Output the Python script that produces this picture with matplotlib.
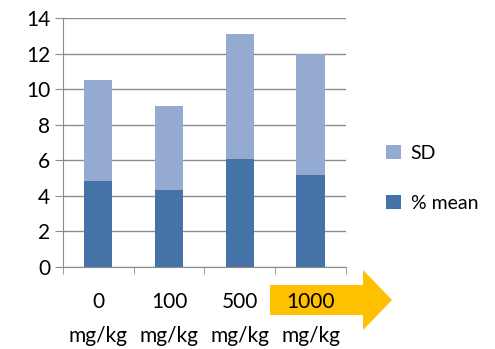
import matplotlib.pyplot as plt
from matplotlib.patches import Polygon
import numpy as np

plt.rcParams['font.family'] = ['Lato', 'DejaVu Sans']

doses = ['0\nmg/kg', '100\nmg/kg', '500\nmg/kg', '1000\nmg/kg']
mean_pct = [4.85, 4.35, 6.05, 5.15]
sd = [5.65, 4.7, 7.05, 6.85]

dark = '#4673A7'
light = '#95AAD0'
grid_c = '#8C8C8C'

fig = plt.figure(figsize=(4.95, 3.49), dpi=100)
ax = fig.add_axes([0.127, 0.235, 0.572, 0.713])

x = np.arange(len(doses))
ax.bar(x, mean_pct, width=0.4, color=dark, label='% mean', zorder=3)
ax.bar(x, sd, width=0.4, bottom=mean_pct, color=light, label='SD', zorder=3)

ax.set_ylim(0, 14)
ax.set_xlim(-0.5, 3.5)
ax.set_yticks(np.arange(0, 15, 2))
ax.yaxis.grid(True, color=grid_c, lw=1, zorder=0)
for s in ['top', 'right']:
    ax.spines[s].set_visible(False)
for s in ['left', 'bottom']:
    ax.spines[s].set_color(grid_c)
ax.tick_params(axis='y', length=6, color=grid_c, labelsize=15, pad=3)
ax.set_xticks(x)
ax.set_xticklabels(doses, fontsize=15, linespacing=1.85)
ax.tick_params(axis='x', length=0, pad=18)
ax.set_xticks(np.arange(-0.5, 4, 1), minor=True)
ax.tick_params(axis='x', which='minor', length=5, color=grid_c)

# orange arrow behind the 1000 label (pixel coords, top-left origin)
xy = np.array([[270, 285], [363, 285], [363, 270], [392, 300],
               [363, 330], [363, 315], [270, 315]], dtype=float)
xy[:, 1] = 349 - xy[:, 1]
arrow = Polygon(xy / 100.0, closed=True, facecolor='#FFC000',
                edgecolor='none', transform=fig.dpi_scale_trans, zorder=-1)
fig.patches.append(arrow)

h, l = ax.get_legend_handles_labels()
fig.legend(h[::-1], l[::-1], loc='upper left', bbox_to_anchor=(0.745, 0.635),
           frameon=False, fontsize=14, handlelength=0.75, handleheight=0.75,
           handletextpad=0.5, labelspacing=1.7)

fig.savefig('out.png', dpi=100)
